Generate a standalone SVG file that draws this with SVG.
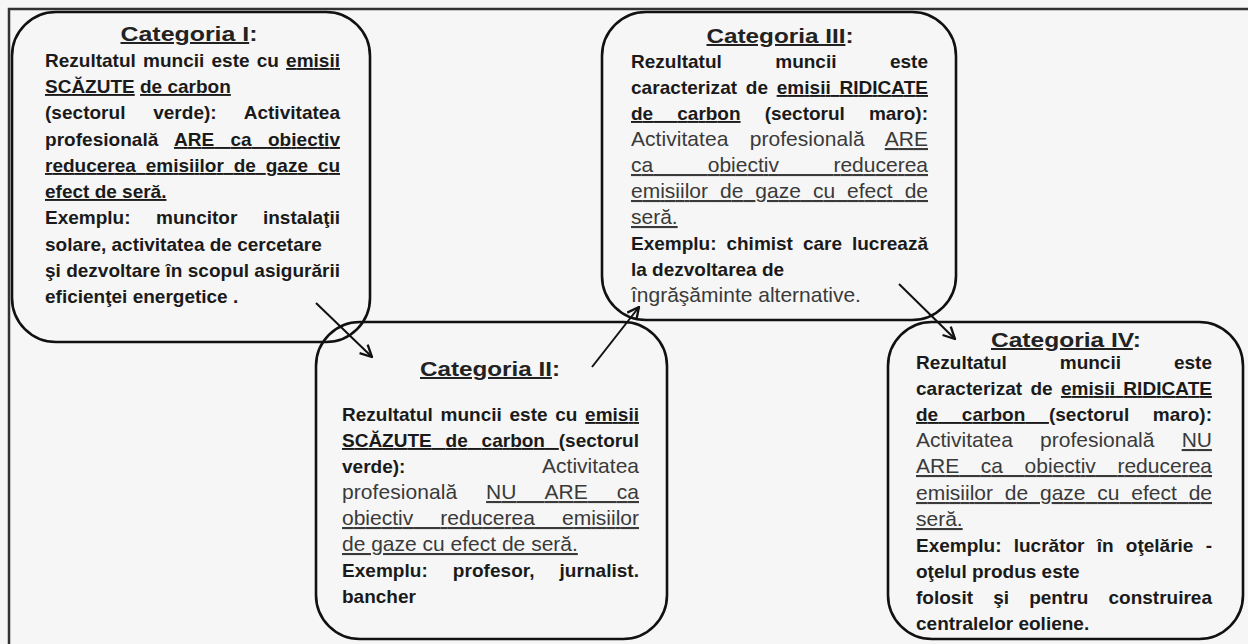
<svg xmlns="http://www.w3.org/2000/svg" width="1248" height="644" viewBox="0 0 1248 644">
<defs>
<style>
.bg{fill:#f6f6f6}
.frame{stroke:#333;stroke-width:2.5;fill:none}
.box{fill:none;stroke:#111;stroke-width:2.6}
.b{font-family:"Liberation Sans",Arial,sans-serif;font-weight:bold;font-size:19px;fill:#1a1a1a}
.r{font-family:"Liberation Sans",Arial,sans-serif;font-size:21px;fill:#3a3a3a}
.t{font-family:"Liberation Sans",Arial,sans-serif;font-weight:bold;font-size:20px;fill:#222}
.u{text-decoration:underline}
.arrow{stroke:#111;stroke-width:2;fill:none}
</style>
<marker id="ah" viewBox="0 0 12 12" refX="11" refY="6" markerWidth="14" markerHeight="14" markerUnits="userSpaceOnUse" orient="auto">
<path d="M1,1 L11,6 L1,11" fill="none" stroke="#111" stroke-width="2"/>
</marker>
</defs>
<rect class="bg" x="0" y="0" width="1248" height="644"/>
<path class="frame" d="M9,644 L9,9 L1248,9"/>

<g id="connectors">
<line class="arrow" x1="316" y1="303" x2="372" y2="357" marker-end="url(#ah)"/>
<line class="arrow" x1="592" y1="367" x2="639" y2="307" marker-end="url(#ah)"/>
<line class="arrow" x1="899" y1="284" x2="955" y2="339" marker-end="url(#ah)"/>
</g>

<g id="cat1">
<rect class="box" x="12" y="12" width="358" height="330" rx="44"/>
<text class="t" x="189" y="41" text-anchor="middle" textLength="137" lengthAdjust="spacingAndGlyphs"><tspan class="u">Categoria I</tspan>:</text>
<text class="b" x="45" y="67" word-spacing="1.9" textLength="295" lengthAdjust="spacing">Rezultatul muncii este cu <tspan class="u">emisii</tspan></text>
<text class="b" x="45" y="93"><tspan class="u">SCĂZUTE</tspan> <tspan class="u">de carbon</tspan></text>
<text class="b" x="45" y="119" word-spacing="22.4" textLength="295" lengthAdjust="spacing">(sectorul verde): Activitatea</text>
<text class="b" x="45" y="146" word-spacing="11" textLength="295" lengthAdjust="spacing">profesională <tspan class="u">ARE ca obiectiv</tspan></text>
<text class="b" x="45" y="172" word-spacing="4.6" textLength="295" lengthAdjust="spacing"><tspan class="u">reducerea emisiilor de gaze cu</tspan></text>
<text class="b" x="45" y="198"><tspan class="u">efect de seră.</tspan></text>
<text class="b" x="45" y="224" word-spacing="20.3" textLength="295" lengthAdjust="spacing">Exemplu: muncitor instalaţii</text>
<text class="b" x="45" y="251">solare, activitatea de cercetare</text>
<text class="b" x="45" y="277" textLength="295" lengthAdjust="spacing">şi dezvoltare în scopul asigurării</text>
<text class="b" x="45" y="303">eficienţei energetice .</text>
</g>

<g id="cat2">
<rect class="box" x="316" y="322" width="351" height="317" rx="44"/>
<text class="t" x="490" y="376" text-anchor="middle" textLength="140" lengthAdjust="spacingAndGlyphs"><tspan class="u">Categoria II</tspan>:</text>
<text class="b" x="342" y="421" word-spacing="2.4" textLength="297" lengthAdjust="spacing">Rezultatul muncii este cu <tspan class="u">emisii</tspan></text>
<text class="b" x="342" y="447" word-spacing="8.6" textLength="297" lengthAdjust="spacing"><tspan class="u">SCĂZUTE de carbon </tspan>(sectorul</text>
<text class="b" x="342" y="473">verde):</text>
<text class="r" x="639" y="473" text-anchor="end">Activitatea</text>
<text class="r" x="342" y="499" word-spacing="23.1" textLength="297" lengthAdjust="spacing">profesională <tspan class="u">NU ARE ca</tspan></text>
<text class="r" x="342" y="525" word-spacing="21.3" textLength="297" lengthAdjust="spacing"><tspan class="u">obiectiv reducerea emisiilor</tspan></text>
<text class="r" x="342" y="551"><tspan class="u">de gaze cu efect de seră.</tspan></text>
<text class="b" x="342" y="577" word-spacing="19.7" textLength="297" lengthAdjust="spacing">Exemplu: profesor, jurnalist.</text>
<text class="b" x="342" y="603">bancher</text>
</g>

<g id="cat3">
<rect class="box" x="602" y="12" width="354" height="308" rx="44"/>
<text class="t" x="780" y="43" text-anchor="middle" textLength="147" lengthAdjust="spacingAndGlyphs"><tspan class="u">Categoria III</tspan>:</text>
<text class="b" x="631" y="68" word-spacing="48.2" textLength="297" lengthAdjust="spacing">Rezultatul muncii este</text>
<text class="b" x="631" y="94" word-spacing="3.3" textLength="297" lengthAdjust="spacing">caracterizat de <tspan class="u">emisii RIDICATE</tspan></text>
<text class="b" x="631" y="120" word-spacing="18.8" textLength="297" lengthAdjust="spacing"><tspan class="u">de carbon</tspan> (sectorul maro):</text>
<text class="r" x="631" y="146" word-spacing="15.4" textLength="297" lengthAdjust="spacing">Activitatea profesională <tspan class="u">ARE</tspan></text>
<text class="r" x="631" y="172" word-spacing="48.7" textLength="297" lengthAdjust="spacing"><tspan class="u">ca obiectiv reducerea</tspan></text>
<text class="r" x="631" y="198" word-spacing="6.2" textLength="297" lengthAdjust="spacing"><tspan class="u">emisiilor de gaze cu efect de</tspan></text>
<text class="r" x="631" y="224"><tspan class="u">seră.</tspan></text>
<text class="b" x="631" y="250" word-spacing="4.7" textLength="297" lengthAdjust="spacing">Exemplu: chimist care lucrează</text>
<text class="b" x="631" y="276">la dezvoltarea de</text>
<text class="r" x="631" y="302">îngrăşăminte alternative.</text>
</g>

<g id="cat4">
<rect class="box" x="888" y="322" width="355" height="317" rx="44"/>
<text class="t" x="1066" y="347" text-anchor="middle" textLength="150" lengthAdjust="spacingAndGlyphs"><tspan class="u">Categoria IV</tspan>:</text>
<text class="b" x="916" y="369" word-spacing="47.7" textLength="296" lengthAdjust="spacing">Rezultatul muncii este</text>
<text class="b" x="916" y="395" word-spacing="2.9" textLength="296" lengthAdjust="spacing">caracterizat de <tspan class="u">emisii RIDICATE</tspan></text>
<text class="b" x="916" y="421" word-spacing="18.4" textLength="296" lengthAdjust="spacing"><tspan class="u">de carbon </tspan>(sectorul maro):</text>
<text class="r" x="916" y="447" word-spacing="21.4" textLength="296" lengthAdjust="spacing">Activitatea profesională <tspan class="u">NU</tspan></text>
<text class="r" x="916" y="473" word-spacing="15.8" textLength="296" lengthAdjust="spacing"><tspan class="u">ARE ca obiectiv reducerea</tspan></text>
<text class="r" x="916" y="500" word-spacing="6" textLength="296" lengthAdjust="spacing"><tspan class="u">emisiilor de gaze cu efect de</tspan></text>
<text class="r" x="916" y="526"><tspan class="u">seră.</tspan></text>
<text class="b" x="916" y="552" word-spacing="7" textLength="296" lengthAdjust="spacing">Exemplu: lucrător în oţelărie -</text>
<text class="b" x="916" y="578">oţelul produs este</text>
<text class="b" x="916" y="604" word-spacing="14.9" textLength="296" lengthAdjust="spacing">folosit şi pentru construirea</text>
<text class="b" x="916" y="630">centralelor eoliene.</text>
</g>
</svg>
